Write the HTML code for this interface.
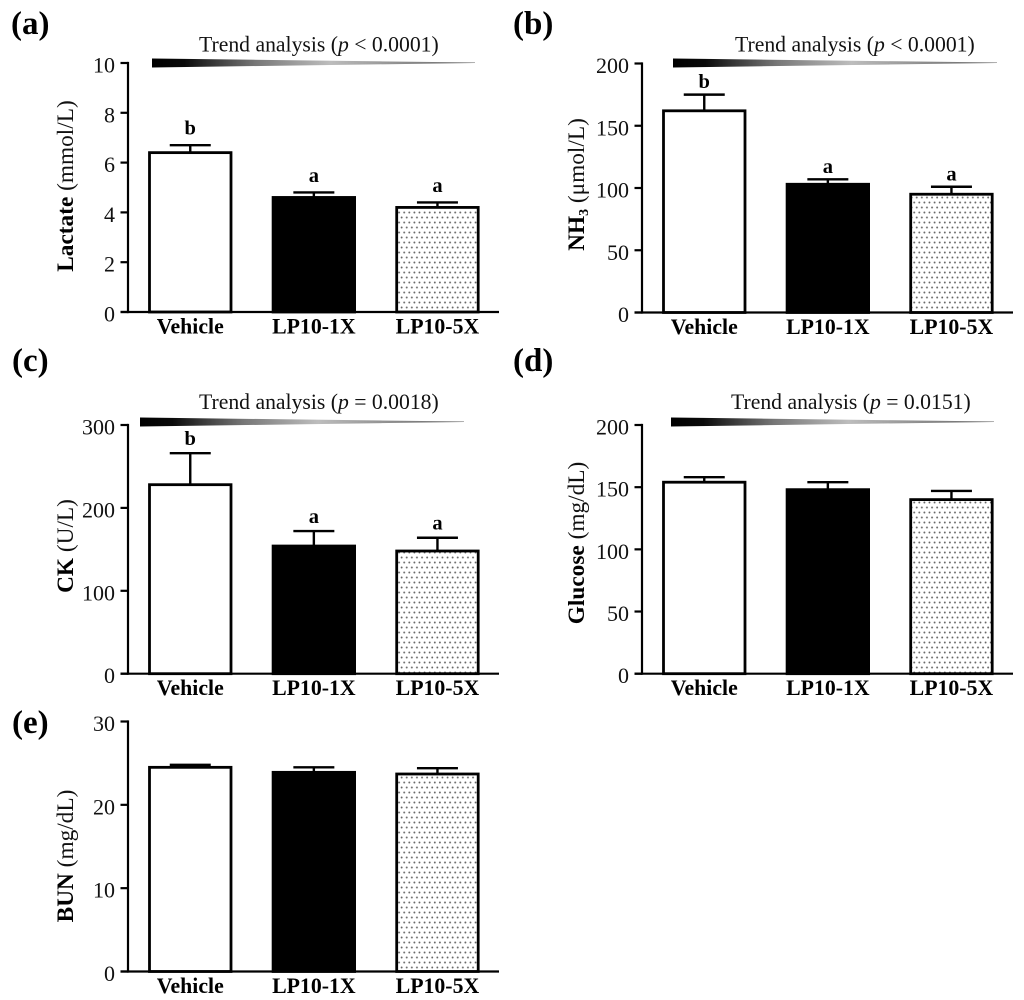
<!DOCTYPE html>
<html lang="en">
<head>
<meta charset="utf-8">
<title>Fatigue biomarker bar charts</title>
<style>
html,body{margin:0;padding:0;background:#fff;width:1024px;height:1000px;overflow:hidden}
svg{display:block;filter:blur(0.35px)}
text{font-family:"Liberation Serif","Times New Roman",serif;fill:#111}
.panel{font-size:33px;font-weight:bold;fill:#000}
.trend{font-size:21.7px}
.ytitle{font-size:23.3px;text-anchor:middle}
.ytitle .b{font-weight:bold;fill:#000}
.tick{font-size:22px;text-anchor:end}
.cat{font-size:21.8px;font-weight:bold;text-anchor:middle;fill:#000}
.sig{font-size:20.5px;font-weight:bold;text-anchor:middle;fill:#000}
</style>
</head>
<body>
<svg id="figure" xmlns="http://www.w3.org/2000/svg" width="1024" height="1000" viewBox="0 0 1024 1000">
  <defs>
    <pattern id="dots" width="5.1" height="10" patternUnits="userSpaceOnUse">
      <rect width="5.1" height="10" fill="#fff"/>
      <circle cx="1.3" cy="2.5" r="0.95" fill="#666"/>
      <circle cx="3.85" cy="7.5" r="0.95" fill="#666"/>
    </pattern>
    <linearGradient id="wedgeFill" x1="0" x2="1" y1="0" y2="0">
      <stop offset="0" stop-color="#000"/>
      <stop offset="0.1" stop-color="#0a0a0a"/>
      <stop offset="0.32" stop-color="#777"/>
      <stop offset="0.55" stop-color="#bdbdbd"/>
      <stop offset="0.8" stop-color="#888"/>
      <stop offset="1" stop-color="#666"/>
    </linearGradient>
  </defs>

  <text class="panel" x="11" y="34">(a)</text>
  <text class="panel" x="513" y="34">(b)</text>
  <text class="panel" x="12" y="371">(c)</text>
  <text class="panel" x="513" y="371">(d)</text>
  <text class="panel" x="12" y="733">(e)</text>

  <text class="trend" x="199" y="51.5">Trend analysis (<tspan font-style="italic">p</tspan> &lt; 0.0001)</text>
  <text class="trend" x="735" y="51.5">Trend analysis (<tspan font-style="italic">p</tspan> &lt; 0.0001)</text>
  <text class="trend" x="199" y="409">Trend analysis (<tspan font-style="italic">p</tspan> = 0.0018)</text>
  <text class="trend" x="731" y="409">Trend analysis (<tspan font-style="italic">p</tspan> = 0.0151)</text>

  <polygon points="152,58.5 475,62.5 475,63 152,67.5" fill="url(#wedgeFill)"/>
  <polygon points="673,58.5 997,62.5 997,63 673,67.5" fill="url(#wedgeFill)"/>
  <polygon points="140,417.5 464,421.5 464,422 140,426.5" fill="url(#wedgeFill)"/>
  <polygon points="671,417.5 994,421.5 994,422 671,426.5" fill="url(#wedgeFill)"/>

  <text class="ytitle" transform="translate(73,186) rotate(-90)"><tspan class="b">Lactate</tspan> (mmol/L)</text>
  <text class="ytitle" transform="translate(584,184.5) rotate(-90)"><tspan class="b">NH<tspan font-size="14" dy="4">3</tspan></tspan><tspan dy="-4"> (μmol/L)</tspan></text>
  <text class="ytitle" transform="translate(73,546) rotate(-90)"><tspan class="b">CK</tspan> (U/L)</text>
  <text class="ytitle" transform="translate(584,543) rotate(-90)"><tspan class="b">Glucose</tspan> (mg/dL)</text>
  <text class="ytitle" transform="translate(73,856) rotate(-90)"><tspan class="b">BUN</tspan> (mg/dL)</text>
</svg>

<script>
const categories = ['Vehicle', 'LP10-1X', 'LP10-5X'];

const lactateValues = [6.4, 4.6, 4.2];
const lactateErrors = [0.3, 0.2, 0.2];
const lactateTicks = [0, 2, 4, 6, 8, 10];
const lactateLetters = ['b', 'a', 'a'];

const ammoniaValues = [162, 103, 95];
const ammoniaErrors = [13, 4, 6];
const ammoniaTicks = [0, 50, 100, 150, 200];
const ammoniaLetters = ['b', 'a', 'a'];

const ckValues = [228, 154, 148];
const ckErrors = [38, 18, 16];
const ckTicks = [0, 100, 200, 300];
const ckLetters = ['b', 'a', 'a'];

const glucoseValues = [154, 148, 140];
const glucoseErrors = [4, 6, 7];
const glucoseTicks = [0, 50, 100, 150, 200];
const glucoseLetters = ['', '', ''];

const bunValues = [24.5, 23.9, 23.7];
const bunErrors = [0.3, 0.6, 0.7];
const bunTicks = [0, 10, 20, 30];
const bunLetters = ['', '', ''];

const NS = 'http://www.w3.org/2000/svg';
const figure = document.getElementById('figure');

function make(tag, attrs, parent) {
  const el = document.createElementNS(NS, tag);
  for (const k in attrs) el.setAttribute(k, attrs[k]);
  parent.appendChild(el);
  return el;
}

const barFills = ['#fff', '#000', 'url(#dots)'];

function drawPanel(id, frame, values, errors, ticks, letters) {
  const g = make('g', {}, figure);
  
  

  const maxTick = ticks[ticks.length - 1];
  const yScale = v => frame.bottom - (v / maxTick) * (frame.bottom - frame.top);
  const barLeft = i => frame.axisX + 21.5 + i * 123.6;
  const barWidth = 81.5;

  values.forEach((value, i) => {
    const cx = barLeft(i) + barWidth / 2;
    const yTop = yScale(value);
    const yErr = yScale(value + errors[i]);

    const stem = make('line', {x1: cx, x2: cx, y1: yTop, y2: yErr, stroke: '#000', 'stroke-width': 2.4}, g);
    
    

    const cap = make('line', {x1: cx - 20.5, x2: cx + 20.5, y1: yErr, y2: yErr, stroke: '#000', 'stroke-width': 2.4}, g);
    
    

    const bar = make('rect', {x: barLeft(i), y: yTop, width: barWidth, height: frame.bottom - yTop, fill: barFills[i], stroke: '#000', 'stroke-width': 2.8}, g);
    
    

    if (letters[i]) {
      const letter = make('text', {class: 'sig', x: cx, y: yErr - frame.letterGap}, g);
      letter.textContent = letters[i];
      
      
    }

    const label = make('text', {class: 'cat', x: cx, y: frame.bottom + 21.5}, g);
    label.textContent = categories[i];
    
    
  });

  const yAxis = make('line', {x1: frame.axisX, x2: frame.axisX, y1: frame.top - 1.1, y2: frame.bottom + 1.1, stroke: '#000', 'stroke-width': 2.2}, g);
  
  

  const xAxis = make('line', {x1: frame.axisX - 7.5, x2: frame.axisX + 371, y1: frame.bottom, y2: frame.bottom, stroke: '#000', 'stroke-width': 2.2}, g);
  
  

  ticks.forEach(t => {
    const y = yScale(t);
    const mark = make('line', {x1: frame.axisX - 7.5, x2: frame.axisX, y1: y, y2: y, stroke: '#000', 'stroke-width': 2.2}, g);
    
    

    const tickText = make('text', {class: 'tick', x: frame.axisX - 13, y: y + 9.5}, g);
    tickText.textContent = t;
    
    
  });
}

drawPanel('a', {axisX: 128, top: 63, bottom: 312, letterGap: 10.5}, lactateValues, lactateErrors, lactateTicks, lactateLetters);
drawPanel('b', {axisX: 642, top: 63.5, bottom: 312.5, letterGap: 6.5}, ammoniaValues, ammoniaErrors, ammoniaTicks, ammoniaLetters);
drawPanel('c', {axisX: 128, top: 425, bottom: 673.7, letterGap: 8}, ckValues, ckErrors, ckTicks, ckLetters);
drawPanel('d', {axisX: 642, top: 425, bottom: 673.7, letterGap: 8}, glucoseValues, glucoseErrors, glucoseTicks, glucoseLetters);
drawPanel('e', {axisX: 128, top: 721.5, bottom: 971.5, letterGap: 8}, bunValues, bunErrors, bunTicks, bunLetters);
</script>
</body>
</html>
